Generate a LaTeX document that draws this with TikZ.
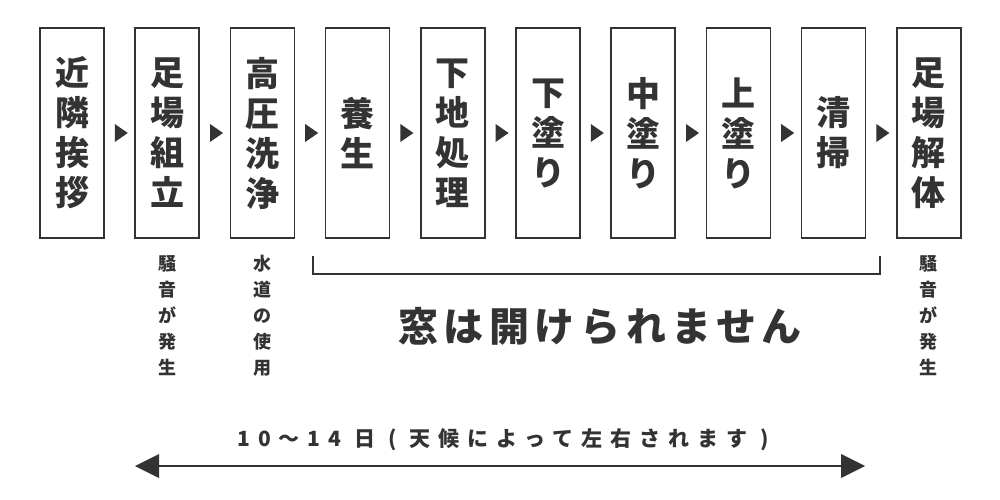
\documentclass[tikz,border=0pt]{standalone}
\usepackage{fontspec}
\usetikzlibrary{calc}
\setmainfont{Noto Sans CJK JP}
\newfontfamily\spacedA[LetterSpace=14]{Noto Sans CJK JP}
\newfontfamily\spacedB[LetterSpace=38]{Noto Sans CJK JP}
\definecolor{ink}{HTML}{333333}
\tikzset{
 stepbox/.style={draw=ink,line width=1.6pt,minimum width=64pt,minimum height=210pt,inner sep=0pt,text=ink,font=\fontsize{34}{40}\selectfont\bfseries,align=center},
 tri/.style={fill=ink,draw=none},
 note/.style={text=ink,font=\fontsize{18}{26}\selectfont\bfseries,align=center,anchor=north},
}
\begin{document}
\begin{tikzpicture}[x=1pt,y=-1pt]
\useasboundingbox[fill=white] (0,0) rectangle (1000,500);
\foreach \i/\t in {0/{近\\隣\\挨\\拶},1/{足\\場\\組\\立},2/{高\\圧\\洗\\浄},3/{養\\生},4/{下\\地\\処\\理},5/{下\\塗\\り},6/{中\\塗\\り},7/{上\\塗\\り},8/{清\\掃},9/{足\\場\\解\\体}}{
 \node[stepbox] (b\i) at ({72+95.2*\i},133) {\t};
}
\foreach \i in {0,...,8}{
 \path (b\i.east) ++(10,0) coordinate (t\i);
 \fill[tri] (t\i) ++(0,-9) -- ++(13,9) -- ++(-13,9) -- cycle;
}
\node[note] (n1) at (b1.south |- 0,252) {騒\\音\\が\\発\\生};
\node[note] (n2) at (b2.south |- 0,252) {水\\道\\の\\使\\用};
\node[note] (n9) at (b9.south |- 0,252) {騒\\音\\が\\発\\生};
\coordinate (bl) at (313,256);
\coordinate (br) at (880,256);
\draw[ink,line width=2.2pt] (bl) -- ++(0,18) -| (br);
\node[text=ink,font=\fontsize{40}{42}\spacedA\bfseries] (win) at (600,326) {窓は開けられません};
\node[text=ink,font=\fontsize{21}{24}\spacedB\bfseries] (days) at (503,440) {10〜14 日 ( 天候によって左右されます )};
\coordinate (al) at (135,466);
\coordinate (ar) at (865,466);
\draw[ink,line width=2pt] ($(al)+(20,0)$) -- ($(ar)+(-20,0)$);
\fill[ink] (al) -- ++(24,-12) -- ++(0,24) -- cycle;
\fill[ink] (ar) -- ++(-24,-12) -- ++(0,24) -- cycle;
\end{tikzpicture}
\end{document}
